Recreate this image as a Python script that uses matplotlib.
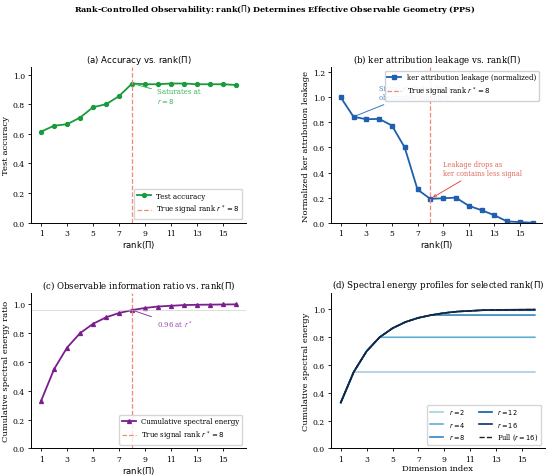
import numpy as np
import matplotlib
matplotlib.use("Agg")
import matplotlib.pyplot as plt

plt.rcParams['font.family'] = ['DejaVu Serif']
plt.rcParams['mathtext.fontset'] = 'dejavusans'

# dados
ranks = np.arange(1, 17)
acuracia = [0.615, 0.655, 0.665, 0.71, 0.78, 0.80, 0.855, 0.94,
            0.935, 0.935, 0.94, 0.94, 0.935, 0.935, 0.935, 0.93]
vazamento = [1.0, 0.845, 0.825, 0.828, 0.775, 0.60, 0.265, 0.19,
             0.195, 0.20, 0.135, 0.10, 0.06, 0.01, 0.005, 0.0]
energia = [0.33, 0.55, 0.70, 0.80, 0.865, 0.91, 0.94, 0.96,
           0.975, 0.985, 0.99, 0.995, 0.997, 0.998, 0.999, 1.0]
ranks_sel = [2, 4, 8, 12, 16]
r_true = 8

verde = '#1a9a3c'
azul = '#1f5fad'
roxo = '#7a1f8c'
salmao = '#ef8a78'
sans = 'DejaVu Sans'
fs_tit = 6.2
fs_lab = 6.1
fs_leg = 5.0

fig = plt.figure(figsize=(5.5, 4.77), dpi=100)
fig.suptitle(r"Rank-Controlled Observability: rank($\Pi$) Determines Effective Observable Geometry (PPS)",
             fontsize=5.8, fontweight='bold', y=0.993)

axA = fig.add_axes([0.057, 0.531, 0.390, 0.326])
axB = fig.add_axes([0.602, 0.531, 0.384, 0.326])
axC = fig.add_axes([0.057, 0.058, 0.390, 0.326])
axD = fig.add_axes([0.602, 0.058, 0.388, 0.326])

for ax in (axA, axB, axC, axD):
    ax.spines['top'].set_visible(False)
    ax.spines['right'].set_visible(False)
    ax.tick_params(labelsize=5.5, length=2.5, width=0.6, pad=2)
    ax.spines['left'].set_linewidth(0.7)
    ax.spines['bottom'].set_linewidth(0.7)
    ax.set_xticks(range(1, 17, 2))
    ax.set_xlim(0.25, 16.75)

# (a)
axA.plot(ranks, acuracia, '-o', color=verde, lw=1.3, ms=2.8, label='Test accuracy')
axA.axvline(r_true, color=salmao, ls='--', lw=0.9, label=r'True signal rank $r^*=8$')
axA.annotate("Saturates at\n$r=8$", xy=(8, 0.94), xytext=(9.9, 0.855),
             fontsize=5, color='#3cb35a', va='center',
             arrowprops=dict(arrowstyle='-', color='#3cb35a', lw=0.7))
axA.set_ylim(0, 1.05)
axA.set_title(r"(a) Accuracy vs. rank($\Pi$)", fontsize=fs_tit, family=sans, pad=4)
axA.set_xlabel(r"rank($\Pi$)", fontsize=fs_lab, family=sans, labelpad=1)
axA.set_ylabel("Test accuracy", fontsize=fs_lab, labelpad=2)
axA.legend(loc='lower right', fontsize=fs_leg)

# (b)
axB.plot(ranks, vazamento, '-s', color=azul, lw=1.3, ms=2.8,
         label='ker attribution leakage (normalized)')
axB.axvline(r_true, color=salmao, ls='--', lw=0.9, label=r'True signal rank $r^*=8$')
axB.annotate("Signal excluded from\nobservable subspace", xy=(2, 0.845), xytext=(4.0, 1.04),
             fontsize=4.8, color='#4a86c8', va='center',
             arrowprops=dict(arrowstyle='-', color='#3a78c0', lw=0.7))
axB.annotate("Leakage drops as\nker contains less signal", xy=(8, 0.19), xytext=(9.0, 0.435),
             fontsize=4.8, color='#e06a5a', va='center',
             arrowprops=dict(arrowstyle='->', color='#e05040', lw=0.7))
axB.set_ylim(0, 1.24)
axB.set_yticks(np.arange(0, 1.21, 0.2))
axB.set_title(r"(b) ker attribution leakage vs. rank($\Pi$)", fontsize=fs_tit, pad=4)
axB.set_xlabel(r"rank($\Pi$)", fontsize=fs_lab, family=sans, labelpad=1)
axB.set_ylabel("Normalized ker attribution leakage", fontsize=fs_lab, labelpad=2)
axB.legend(loc='upper right', fontsize=fs_leg, framealpha=0.9)

# (c)
axC.plot(ranks, energia, '-^', color=roxo, lw=1.3, ms=2.8, label='Cumulative spectral energy')
axC.axvline(r_true, color=salmao, ls='--', lw=0.9, label=r'True signal rank $r^*=8$')
axC.axhline(energia[r_true - 1], color='#c8c8c8', lw=0.6, alpha=0.7)
axC.annotate("0.96 at $r^*$", xy=(8, energia[r_true - 1]), xytext=(9.9, 0.86),
             fontsize=5, color='#9a4ab0', va='center',
             arrowprops=dict(arrowstyle='-', color='#8a3aa0', lw=0.7))
axC.set_ylim(0, 1.08)
axC.set_title(r"(c) Observable information ratio vs. rank($\Pi$)", fontsize=fs_tit, pad=4)
axC.set_xlabel(r"rank($\Pi$)", fontsize=fs_lab, family=sans, labelpad=1)
axC.set_ylabel("Cumulative spectral energy ratio", fontsize=fs_lab, labelpad=2)
axC.legend(loc='lower right', fontsize=fs_leg)

# (d)
cores = plt.cm.Blues(np.linspace(0.35, 1.0, len(ranks_sel)))
energia_arr = np.array(energia)
for r, c in zip(ranks_sel, cores):
    perfil = energia_arr[np.minimum(ranks, r) - 1]
    axD.plot(ranks, perfil, color=c, lw=1.2, label=f'$r={r}$')
axD.plot(ranks, energia_arr, '--', color='#222222', lw=1.0, label='Full ($r=16$)')
axD.set_ylim(0, 1.12)
axD.set_title(r"(d) Spectral energy profiles for selected rank($\Pi$)", fontsize=fs_tit, pad=4)
axD.set_xlabel("Dimension index", fontsize=fs_lab, labelpad=1)
axD.set_ylabel("Cumulative spectral energy", fontsize=fs_lab, labelpad=2)
axD.legend(loc='lower right', fontsize=4.8, ncol=2)

fig.savefig('out.png', dpi=100)
